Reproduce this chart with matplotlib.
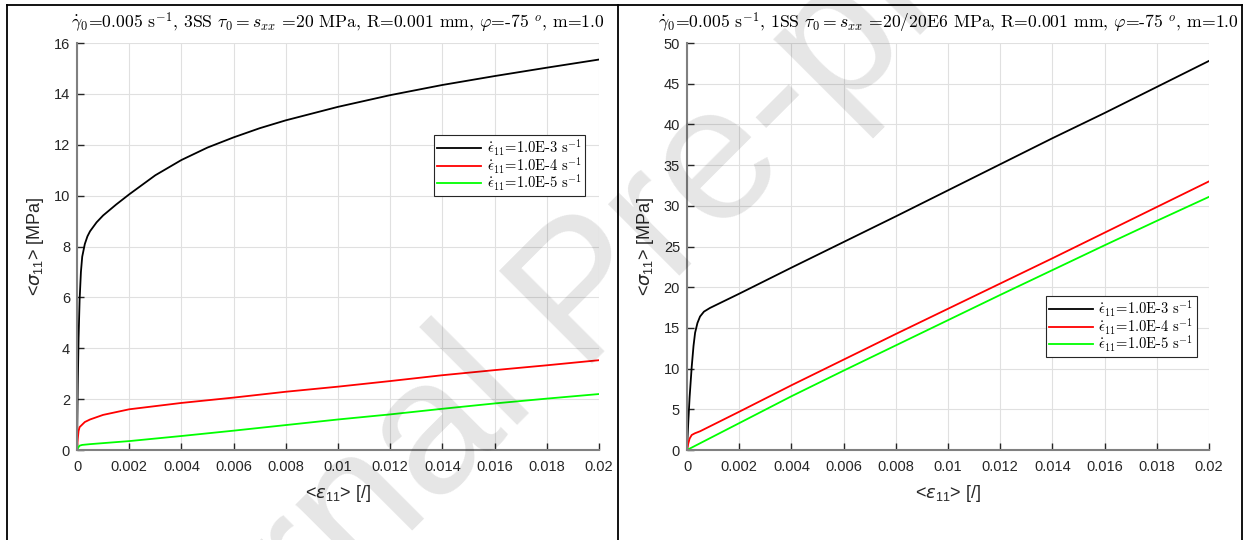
import numpy as np
import matplotlib
matplotlib.use('Agg')
import matplotlib.pyplot as plt
from matplotlib.font_manager import FontProperties
from matplotlib.lines import Line2D
from matplotlib.ticker import FormatStrFormatter

plt.rcParams['font.family'] = ['Liberation Sans', 'DejaVu Sans']
plt.rcParams['mathtext.fontset'] = 'cm'

W, H = 1247, 540

# 3SS, tau0 = s_xx = 20 MPa
eps_3ss_e3 = [0, 0.00003, 0.00006, 0.0001, 0.00015, 0.0002, 0.0003, 0.0004, 0.0005, 0.00075, 0.001,
              0.0015, 0.002, 0.003, 0.004, 0.005, 0.006, 0.007, 0.008, 0.01, 0.012, 0.014, 0.016,
              0.018, 0.02]
sig_3ss_e3 = [0, 2.6, 4.4, 5.9, 7.0, 7.6, 8.1, 8.4, 8.6, 8.95, 9.22,
              9.65, 10.05, 10.8, 11.4, 11.89, 12.29, 12.65, 12.96, 13.49, 13.95, 14.35, 14.7,
              15.03, 15.35]
eps_3ss_e4 = [0, 0.00003, 0.00006, 0.0001, 0.0002, 0.0003, 0.0005, 0.001, 0.002, 0.004,
              0.006, 0.008, 0.01, 0.012, 0.014, 0.016, 0.018, 0.02]
sig_3ss_e4 = [0, 0.45, 0.75, 0.9, 1.0, 1.1, 1.2, 1.38, 1.6, 1.85,
              2.06, 2.29, 2.49, 2.71, 2.94, 3.14, 3.33, 3.53]
eps_3ss_e5 = [0, 0.00005, 0.0001, 0.0002, 0.0005, 0.001, 0.002, 0.004,
              0.006, 0.008, 0.01, 0.012, 0.014, 0.016, 0.018, 0.02]
sig_3ss_e5 = [0, 0.1, 0.17, 0.2, 0.23, 0.27, 0.35, 0.55,
              0.76, 0.98, 1.2, 1.4, 1.62, 1.83, 2.02, 2.2]

# 1SS, tau0 = s_xx = 20/20E6 MPa
eps_1ss_e3 = [0, 0.00005, 0.0001, 0.00018, 0.00025, 0.00031, 0.0004, 0.0005, 0.00065, 0.00088,
              0.0012, 0.002, 0.004, 0.006, 0.008, 0.01, 0.012, 0.014, 0.016, 0.018, 0.02]
sig_1ss_e3 = [0, 3.5, 6.5, 10.2, 12.8, 14.4, 15.6, 16.4, 17.0, 17.45,
              17.95, 19.2, 22.4, 25.55, 28.7, 31.9, 35.1, 38.3, 41.4, 44.6, 47.8]
eps_1ss_e4 = [0, 0.00005, 0.0001, 0.00018, 0.0003, 0.0005, 0.001, 0.002, 0.004,
              0.006, 0.008, 0.01, 0.012, 0.014, 0.016, 0.018, 0.02]
sig_1ss_e4 = [0, 0.8, 1.4, 1.84, 2.05, 2.3, 3.1, 4.7, 7.95,
              11.1, 14.25, 17.35, 20.45, 23.55, 26.7, 29.85, 33.0]
eps_1ss_e5 = [0, 0.001, 0.002, 0.004, 0.006, 0.008, 0.01, 0.012, 0.014, 0.016, 0.018, 0.02]
sig_1ss_e5 = [0, 1.65, 3.3, 6.6, 9.75, 12.85, 15.95, 19.05, 22.1, 25.15, 28.15, 31.1]

rate_labels = [r'$\dot{\epsilon}_{11}$=1.0E-3 s$^{-1}$',
               r'$\dot{\epsilon}_{11}$=1.0E-4 s$^{-1}$',
               r'$\dot{\epsilon}_{11}$=1.0E-5 s$^{-1}$']
rate_colors = ['black', 'red', '#00ff00']

title_3ss = (r'$\dot{\gamma}_0$=0.005 s$^{-1}$, 3SS $\tau_0 = s_{xx}$ =20 MPa, '
             r'R=0.001 mm, $\varphi$=-75 $^o$, m=1.0')
title_1ss = (r'$\dot{\gamma}_0$=0.005 s$^{-1}$, 1SS $\tau_0 = s_{xx}$ =20/20E6 MPa, '
             r'R=0.001 mm, $\varphi$=-75 $^o$, m=1.0')


def px_axes(fig, x0, y0, x1, y1):
    return fig.add_axes([x0 / W, 1 - y1 / H, (x1 - x0) / W, (y1 - y0) / H])


def setup(ax, ymax, ystep):
    ax.set_xlim(0, 0.02)
    ax.set_ylim(0, ymax)
    ax.set_xticks(np.linspace(0, 0.02, 11))
    ax.set_yticks(np.arange(0, ymax + 0.01, ystep))
    ax.xaxis.set_major_formatter(FormatStrFormatter('%g'))
    ax.yaxis.set_major_formatter(FormatStrFormatter('%g'))
    ax.grid(True, color='#e0e0e0', lw=0.8)
    ax.set_axisbelow(True)
    for s in ['top', 'right']:
        ax.spines[s].set_visible(False)
    for s in ['left', 'bottom']:
        ax.spines[s].set_color('#808080')
        ax.spines[s].set_linewidth(1.5)
    ax.tick_params(direction='in', length=5, width=1, color='#262626',
                   labelcolor='#262626', labelsize=10.5)
    ax.tick_params(axis='x', pad=7)
    ax.tick_params(axis='y', pad=5)
    ax.set_xlabel(r'<$\epsilon_{\mathregular{11}}$> [/]', fontsize=13, color='#262626',
                  math_fontfamily='dejavusans', va='top')
    ax.set_ylabel(r'<$\sigma_{\mathregular{11}}$> [MPa]', fontsize=13, color='#262626',
                  math_fontfamily='dejavusans')
    ax.xaxis.set_label_coords(0.5, -0.082)


fig = plt.figure(figsize=(W / 100, H / 100), dpi=100)

leg_font = FontProperties(family='cmr10', size=10.5, math_fontfamily='cm')

panels = [
    (77, 599, 16, 2, title_3ss,
     [(eps_3ss_e3, sig_3ss_e3), (eps_3ss_e4, sig_3ss_e4), (eps_3ss_e5, sig_3ss_e5)],
     (434, 135)),
    (687, 1209, 50, 5, title_1ss,
     [(eps_1ss_e3, sig_1ss_e3), (eps_1ss_e4, sig_1ss_e4), (eps_1ss_e5, sig_1ss_e5)],
     (1046, 296)),
]

for x0, x1, ymax, ystep, title, curves, leg_pos in panels:
    ax = px_axes(fig, x0, 43, x1, 450)
    setup(ax, ymax, ystep)
    ax.yaxis.set_label_coords(-0.06, 0.5)
    for (e, s), c, lab in zip(curves, rate_colors, rate_labels):
        ax.plot(e, s, color=c, lw=1.3, label=lab)
    leg = ax.legend(loc='upper left', bbox_to_anchor=(leg_pos[0] / W, 1 - leg_pos[1] / H),
                    bbox_transform=fig.transFigure, borderaxespad=0, prop=leg_font,
                    fancybox=False, framealpha=1, edgecolor='#262626', handlelength=3.0,
                    handletextpad=0.4, labelspacing=-0.2, borderpad=0.2)
    leg.get_frame().set_linewidth(0.8)
    fig.text((x0 + x1) / 2 / W, 1 - 23 / H, title, ha='center', va='center',
             fontsize=12.7, family='cmr10', math_fontfamily='cm', color='black')

# page frame and divider
frame = dict(color='black', lw=1.3, transform=fig.transFigure)
fig.add_artist(Line2D([6.5 / W, 1241.5 / W], [1 - 4.5 / H, 1 - 4.5 / H], **frame))
fig.add_artist(Line2D([6.5 / W, 6.5 / W], [0, 1 - 4.5 / H], **frame))
fig.add_artist(Line2D([1241.5 / W, 1241.5 / W], [0, 1 - 4.5 / H], **frame))
fig.add_artist(Line2D([617.5 / W, 617.5 / W], [0, 1 - 4.5 / H], **frame))

# watermark
wm = dict(fontsize=138, family='Liberation Sans', color='black', alpha=0.1, rotation=45,
          rotation_mode='anchor', va='baseline', zorder=10)
fig.text(576 / W, 1 - 364 / H, 'Pre-proof', ha='left', **wm)
fig.text(539 / W, 1 - 401 / H, 'Journal', ha='right', **wm)

fig.savefig('out.png', dpi=100)
